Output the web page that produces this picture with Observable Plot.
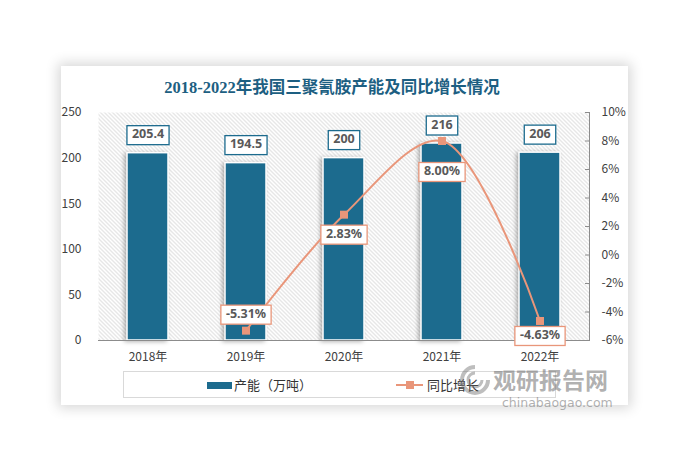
<!DOCTYPE html>
<html><head><meta charset="utf-8">
<script src="https://cdn.jsdelivr.net/npm/d3@7"></script>
<script src="https://cdn.jsdelivr.net/npm/@observablehq/plot@0.6"></script>
<style>
body{margin:0;background:#fff;width:696px;height:465px;position:relative;overflow:hidden;font-family:"Noto Sans CJK SC","Noto Sans",sans-serif;}
#card{position:absolute;left:61px;top:66px;width:567px;height:339px;background:#fff;box-shadow:0 0 12px 3px rgba(0,0,0,0.16);}
#title{position:absolute;left:61px;width:542px;top:78px;text-align:center;font:bold 16.5px "Liberation Serif","Noto Sans CJK SC",serif;color:#1d5f82;line-height:20px;}
#chart{position:absolute;left:0;top:0;}
#legend{position:absolute;left:123px;top:371px;width:433px;height:27px;border:1px solid #d9d9d9;box-sizing:border-box;}
.lg{position:absolute;font-size:13px;color:#333;line-height:14px;}
.sw{position:absolute;}
.wm{position:absolute;color:rgba(110,110,110,0.55);white-space:nowrap;line-height:1;}
.bars rect{filter:drop-shadow(-2px 1px 2px rgba(0,0,0,0.3));}
</style></head>
<body>
<div id="card"></div>
<div id="chart"></div>
<div id="title">2018-2022年我国三聚氰胺产能及同比增长情况</div>
<div id="legend"></div>
<div class="sw" style="left:207px;top:382px;width:25px;height:7px;background:#1c6b8e"></div>
<div class="lg" style="left:234px;top:378px">产能（万吨）</div>
<div class="sw" style="left:396px;top:384px;width:27px;height:2px;background:#e9967a"></div>
<div class="sw" style="left:406px;top:381px;width:8px;height:8px;background:#e9967a"></div>
<div class="lg" style="left:427px;top:378px">同比增长</div>
<svg class="wm" style="left:459px;top:364px" width="32" height="32" viewBox="0 0 32 32"><path d="M16 3 A13 13 0 1 0 29 16" fill="none" stroke="rgba(110,110,110,0.45)" stroke-width="4"/><path d="M16 9 A7 7 0 1 0 23 16" fill="none" stroke="rgba(110,110,110,0.45)" stroke-width="3"/></svg>
<div class="wm" style="left:493px;top:368px;font-size:23px;font-weight:bold">观研报告网</div>
<div class="wm" style="left:502px;top:397px;font-size:12.5px;font-family:'DejaVu Sans'">chinabaogao.com</div>
<script>
// ---- data ----
const years = ["2018年","2019年","2020年","2021年","2022年"];
const capacity = [205.4, 194.5, 200, 216, 206];
const growth = [null, -5.31, 2.83, 8.00, -4.63];
const capacityLabels = ["205.4","194.5","200","216","206"];
const growthLabels = [null,"-5.31%","2.83%","8.00%","-4.63%"];
const leftTicks = [0,50,100,150,200,250];
const rightTicks = [-6,-4,-2,0,2,4,6,8,10];

// secondary axis mapping (-6%..10% onto 0..250)
const pMin = -6, pMax = 10, yMax = 250;
const pToY = p => (p - pMin) / (pMax - pMin) * yMax;
const yToP = v => Math.round(v / yMax * (pMax - pMin) + pMin);

const rows = years.map((y,i)=>({year:y, cap:capacity[i], capLabel:capacityLabels[i],
  g:growth[i], gy: growth[i]==null?null:pToY(growth[i]), gLabel:growthLabels[i], i}));
const lineRows = rows.filter(d=>d.g!=null);

const BLUE="#1c6b8e", ORANGE="#e9967a", AX="#8c8c8c";
const lblStyle = {fontSize:12.5, fontWeight:"bold", fill:"#595959", fontFamily:"'Noto Sans',sans-serif"};
const lineLabelOffsets = [[1,-17],[2,19],[3,30],[4,14]];

const svg = Plot.plot({
  width:696, height:465,
  marginLeft:98, marginRight:107, marginTop:112, marginBottom:125,
  style:{fontFamily:"'Noto Sans CJK SC','Noto Sans',sans-serif", fontSize:"12px", color:"#404040", background:"transparent", overflow:"visible"},
  x:{domain:years, paddingInner:0.58, paddingOuter:0.29, label:null},
  y:{domain:[0,250], label:null},
  marks:[
    Plot.frame({fill:"url(#hatch)", stroke:"none"}),
    Plot.barY(rows,{x:"year", y:"cap", fill:BLUE, stroke:"#fff", strokeWidth:1.5, className:"bars"}),
    Plot.frame({anchor:"bottom", stroke:AX}),
    Plot.frame({anchor:"right", stroke:AX}),
    Plot.axisY(leftTicks,{anchor:"left", tickSize:0, tickPadding:17, fontSize:12, fill:"#404040"}),
    Plot.axisY(rightTicks.map(pToY),{anchor:"right", tickSize:-5, tickPadding:17, stroke:AX, fill:"#404040", fontSize:12, tickFormat:v=>yToP(v)+"%"}),
    Plot.axisX({tickSize:0, tickPadding:12, fontSize:12, fill:"#404040"}),
    Plot.line(lineRows,{x:"year", y:"gy", stroke:ORANGE, strokeWidth:2, curve:"catmull-rom"}),
    Plot.dot(lineRows,{x:"year", y:"gy", symbol:"square", r:4.5, fill:ORANGE, stroke:"none"}),
    Plot.text(rows,{x:"year", y:"cap", text:"capLabel", dy:-19, className:"lbl-bar", ...lblStyle}),
    ...lineLabelOffsets.map(([idx,dy])=>Plot.text(rows.filter(d=>d.i===idx),{x:"year", y:"gy", text:"gLabel", dy, className:"lbl-line", ...lblStyle}))
  ]
});
document.getElementById("chart").append(svg);

// hatch pattern
const NS="http://www.w3.org/2000/svg";
const defs=document.createElementNS(NS,"defs");
defs.innerHTML = `<pattern id="hatch" patternUnits="userSpaceOnUse" width="4" height="4">
<rect width="4" height="4" fill="#fff"/>
<path d="M-1,-1 L5,5 M-1,3 L1,5 M3,-1 L5,1" stroke="#c9c9c9" stroke-width="0.9"/></pattern>`;
svg.insertBefore(defs, svg.firstChild);

// label boxes
function boxify(cls, stroke){
  svg.querySelectorAll(`g.${cls} text`).forEach(t=>{
    const b=t.getBBox();
    const r=document.createElementNS(NS,"rect");
    r.setAttribute("x", b.x-5); r.setAttribute("y", b.y+0.5);
    r.setAttribute("width", b.width+10); r.setAttribute("height", b.height+2);
    r.setAttribute("fill","#fff"); r.setAttribute("stroke",stroke); r.setAttribute("stroke-width","1.3");
    const tr=t.getAttribute("transform"); if(tr) r.setAttribute("transform",tr);
    t.parentNode.insertBefore(r,t);
  });
}
boxify("lbl-bar", BLUE);
boxify("lbl-line", ORANGE);
</script>
</body></html>
